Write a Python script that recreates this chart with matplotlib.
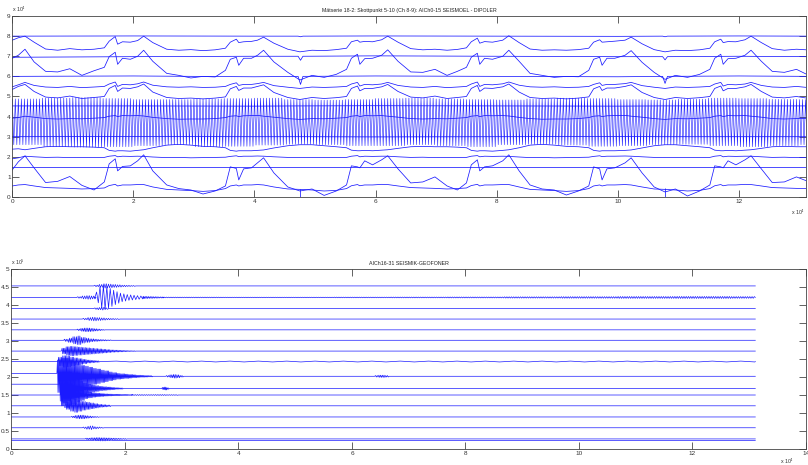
import numpy as np
import matplotlib
matplotlib.use('Agg')
import matplotlib.pyplot as plt

plt.rcParams['font.family'] = ['Liberation Sans', 'DejaVu Sans']

# x i enheter om 1e4 sampel, topp-y i 1e4, botten-y i 1e5
X_END = 13.1072
TITLE_TOP = 'Mätserie 18-2: Skottpunkt 5-10 (Ch 8-9): AICh0-15 SEISMOEL - DIPOLER'
TITLE_BOT = 'AICh16-31 SEISMIK-GEOFONER'

top_xticks = [0, 2, 4, 6, 8, 10, 12]
top_yticks = [0, 1, 2, 3, 4, 5, 6, 7, 8, 9]
bot_xticks = [0, 2, 4, 6, 8, 10, 12, 14]
bot_yticks = [0, 0.5, 1, 1.5, 2, 2.5, 3, 3.5, 4, 4.5, 5]
bot_ylabels = ['0', '0.5', '1', '1.5', '2', '2.5', '3', '3.5', '4', '4.5', '5']

# ---- dipoler: gemensamma brytpunkter (x) ----
KX = [0.0, 0.1,
      0.21, 0.36, 0.55, 0.75, 0.95, 1.15, 1.35, 1.52, 1.6, 1.7, 1.74, 1.82, 1.95, 2.07,
      2.17, 2.32, 2.55, 2.75, 2.95, 3.15, 3.35, 3.52, 3.6, 3.7, 3.74, 3.82, 3.95, 4.05,
      4.15, 4.32, 4.55, 4.75, 4.95, 5.15, 5.35, 5.52, 5.6, 5.7, 5.74, 5.82, 5.95, 6.1,
      6.2, 6.37, 6.58, 6.78, 6.98, 7.18, 7.35, 7.5, 7.58, 7.68, 7.72, 7.8, 7.93, 8.1,
      8.2, 8.37, 8.55, 8.75, 8.95, 9.15, 9.35, 9.52, 9.6, 9.7, 9.74, 9.82, 9.95, 10.12,
      10.22, 10.4, 10.6, 10.78, 10.95, 11.15, 11.35, 11.52, 11.6, 11.7, 11.74, 11.82, 11.95, 12.1,
      12.2, 12.37, 12.55, 12.75, 12.95, 13.12]

trB = [7.8, 7.92,
       8.0, 7.7, 7.36, 7.3, 7.38, 7.32, 7.35, 7.42, 7.75, 7.98, 7.6, 7.72, 7.7, 7.78,
       8.0, 7.68, 7.35, 7.3, 7.33, 7.28, 7.32, 7.4, 7.7, 7.85, 7.68, 7.72, 7.74, 7.8,
       7.95, 7.65, 7.35, 7.22, 7.3, 7.28, 7.33, 7.4, 7.72, 7.8, 7.7, 7.74, 7.72, 7.82,
       8.0, 7.7, 7.38, 7.32, 7.35, 7.3, 7.34, 7.42, 7.72, 7.9, 7.65, 7.73, 7.7, 7.8,
       8.02, 7.68, 7.36, 7.3, 7.32, 7.3, 7.33, 7.4, 7.7, 7.82, 7.7, 7.72, 7.75, 7.8,
       7.95, 7.62, 7.33, 7.22, 7.3, 7.28, 7.32, 7.4, 7.72, 7.85, 7.68, 7.73, 7.72, 7.82,
       8.0, 7.68, 7.38, 7.3, 7.35, 7.32]

trD = [6.9, 7.05,
       7.35, 6.72, 6.25, 6.22, 6.38, 6.05, 6.28, 6.45, 6.98, 7.2, 6.6, 6.9, 6.85, 7.0,
       7.3, 6.75, 6.15, 6.05, 5.92, 6.0, 5.97, 6.3, 6.85, 6.95, 6.55, 6.9, 6.9, 7.05,
       7.3, 6.72, 6.2, 5.82, 6.05, 5.95, 6.1, 6.35, 6.9, 7.1, 6.6, 6.88, 6.9, 7.05,
       7.32, 6.75, 6.22, 6.2, 6.35, 6.05, 6.25, 6.45, 6.95, 7.15, 6.6, 6.9, 6.85, 7.0,
       7.3, 6.75, 6.15, 6.05, 5.95, 6.0, 5.98, 6.3, 6.85, 6.95, 6.55, 6.9, 6.9, 7.05,
       7.28, 6.7, 6.2, 5.85, 6.05, 5.95, 6.1, 6.35, 6.9, 7.1, 6.6, 6.88, 6.9, 7.05,
       7.3, 6.75, 6.25, 6.2, 6.35, 6.1]

trE = [5.48, 5.58,
       5.7, 5.55, 5.47, 5.45, 5.5, 5.44, 5.47, 5.5, 5.62, 5.72, 5.5, 5.6, 5.58, 5.63,
       5.72, 5.56, 5.48, 5.46, 5.48, 5.45, 5.46, 5.5, 5.6, 5.68, 5.55, 5.6, 5.6, 5.64,
       5.7, 5.54, 5.46, 5.4, 5.47, 5.45, 5.47, 5.5, 5.62, 5.7, 5.52, 5.6, 5.58, 5.62,
       5.7, 5.55, 5.47, 5.45, 5.5, 5.44, 5.47, 5.5, 5.62, 5.72, 5.5, 5.6, 5.58, 5.63,
       5.72, 5.56, 5.48, 5.46, 5.48, 5.45, 5.46, 5.5, 5.6, 5.68, 5.55, 5.6, 5.6, 5.64,
       5.7, 5.54, 5.46, 5.4, 5.47, 5.45, 5.47, 5.5, 5.62, 5.7, 5.52, 5.6, 5.58, 5.62,
       5.7, 5.55, 5.47, 5.45, 5.5, 5.45]

trF = [5.35, 5.5,
       5.6, 5.25, 4.97, 4.93, 5.02, 4.9, 4.95, 5.0, 5.4, 5.55, 5.25, 5.42, 5.4, 5.48,
       5.62, 5.22, 4.95, 4.9, 4.92, 4.88, 4.92, 4.98, 5.38, 5.5, 5.3, 5.42, 5.42, 5.5,
       5.58, 5.2, 4.95, 4.85, 4.95, 4.9, 4.94, 5.0, 5.4, 5.52, 5.28, 5.4, 5.4, 5.48,
       5.6, 5.25, 4.97, 4.93, 5.02, 4.9, 4.95, 5.0, 5.4, 5.55, 5.25, 5.42, 5.4, 5.48,
       5.62, 5.22, 4.95, 4.9, 4.92, 4.88, 4.92, 4.98, 5.38, 5.5, 5.3, 5.42, 5.42, 5.5,
       5.58, 5.2, 4.95, 4.85, 4.95, 4.9, 4.94, 5.0, 5.4, 5.52, 5.28, 5.4, 5.4, 5.48,
       5.6, 5.25, 4.97, 4.93, 5.0, 4.92]

trL = [3.92, 3.95,
       4.02, 3.97, 3.9, 3.88, 3.9, 3.89, 3.92, 3.95, 4.02, 4.05, 4.0, 4.05, 4.04, 4.05,
       4.03, 3.96, 3.9, 3.87, 3.88, 3.88, 3.9, 3.95, 4.02, 4.04, 4.0, 4.04, 4.05, 4.06,
       4.02, 3.97, 3.9, 3.86, 3.9, 3.89, 3.92, 3.95, 4.02, 4.05, 4.0, 4.05, 4.04, 4.05,
       4.02, 3.97, 3.9, 3.88, 3.9, 3.89, 3.92, 3.95, 4.02, 4.05, 4.0, 4.05, 4.04, 4.05,
       4.03, 3.96, 3.9, 3.87, 3.88, 3.88, 3.9, 3.95, 4.02, 4.04, 4.0, 4.04, 4.05, 4.06,
       4.02, 3.97, 3.9, 3.86, 3.9, 3.89, 3.92, 3.95, 4.02, 4.05, 4.0, 4.05, 4.04, 4.05,
       4.02, 3.97, 3.9, 3.88, 3.9, 3.9]

trJ = [2.38, 2.4,
       2.35, 2.42, 2.5, 2.52, 2.5, 2.5, 2.48, 2.45, 2.32, 2.28, 2.3, 2.3, 2.28, 2.32,
       2.35, 2.45, 2.58, 2.62, 2.58, 2.52, 2.5, 2.45, 2.32, 2.28, 2.3, 2.3, 2.3, 2.32,
       2.34, 2.44, 2.55, 2.6, 2.6, 2.55, 2.5, 2.45, 2.33, 2.3, 2.3, 2.32, 2.3, 2.33,
       2.35, 2.42, 2.5, 2.52, 2.5, 2.5, 2.48, 2.45, 2.32, 2.28, 2.3, 2.3, 2.28, 2.32,
       2.35, 2.45, 2.58, 2.62, 2.58, 2.52, 2.5, 2.45, 2.32, 2.28, 2.3, 2.3, 2.3, 2.32,
       2.34, 2.44, 2.55, 2.6, 2.6, 2.55, 2.5, 2.45, 2.33, 2.3, 2.3, 2.32, 2.3, 2.33,
       2.35, 2.42, 2.5, 2.52, 2.5, 2.5]

trK = [1.9, 1.95,
       2.03, 2.0, 1.97, 1.98, 1.96, 1.97, 1.96, 1.97, 2.03, 2.06, 2.0, 2.03, 2.02, 2.03,
       2.02, 1.99, 1.96, 1.97, 1.95, 1.96, 1.97, 1.98, 2.02, 2.05, 2.01, 2.03, 2.03, 2.04,
       2.03, 2.0, 1.97, 1.96, 1.96, 1.97, 1.96, 1.97, 2.03, 2.06, 2.0, 2.03, 2.02, 2.03,
       2.03, 2.0, 1.97, 1.98, 1.96, 1.97, 1.96, 1.97, 2.03, 2.06, 2.0, 2.03, 2.02, 2.03,
       2.02, 1.99, 1.96, 1.97, 1.95, 1.96, 1.97, 1.98, 2.02, 2.05, 2.01, 2.03, 2.03, 2.04,
       2.03, 2.0, 1.97, 1.96, 1.96, 1.97, 1.96, 1.97, 2.03, 2.06, 2.0, 2.03, 2.02, 2.03,
       2.03, 2.0, 1.97, 1.98, 1.96, 1.97]

trH = [1.35, 1.75,
       2.05, 1.45, 0.72, 0.78, 1.02, 0.58, 0.35, 0.75, 1.65, 1.9, 1.3, 1.52, 1.55, 1.8,
       2.1, 1.3, 0.6, 0.42, 0.35, 0.15, 0.3, 0.55, 1.5, 1.42, 0.85, 1.4, 1.45, 1.7,
       1.95, 1.2, 0.5, 0.3, 0.4, 0.08, 0.3, 0.6, 1.55, 1.5, 1.45, 1.8, 1.6, 1.85,
       2.05, 1.4, 0.7, 0.75, 1.0, 0.55, 0.35, 0.7, 1.6, 1.85, 1.3, 1.5, 1.55, 1.8,
       2.1, 1.3, 0.6, 0.4, 0.35, 0.1, 0.3, 0.55, 1.5, 1.4, 0.85, 1.4, 1.45, 1.7,
       1.95, 1.2, 0.5, 0.25, 0.4, 0.05, 0.3, 0.6, 1.55, 1.5, 1.45, 1.8, 1.6, 1.85,
       2.05, 1.4, 0.72, 0.75, 1.0, 0.8]

trI = [0.55, 0.6,
       0.62, 0.55, 0.47, 0.45, 0.43, 0.4, 0.42, 0.45, 0.57, 0.63, 0.55, 0.6, 0.6, 0.62,
       0.62, 0.5, 0.38, 0.35, 0.32, 0.28, 0.32, 0.42, 0.55, 0.6, 0.55, 0.6, 0.6, 0.62,
       0.6, 0.5, 0.4, 0.38, 0.35, 0.3, 0.33, 0.42, 0.56, 0.62, 0.56, 0.6, 0.6, 0.63,
       0.62, 0.55, 0.47, 0.45, 0.43, 0.4, 0.42, 0.45, 0.57, 0.63, 0.55, 0.6, 0.6, 0.62,
       0.62, 0.5, 0.38, 0.35, 0.32, 0.28, 0.32, 0.42, 0.55, 0.6, 0.55, 0.6, 0.6, 0.62,
       0.6, 0.5, 0.4, 0.38, 0.35, 0.3, 0.33, 0.42, 0.56, 0.62, 0.56, 0.6, 0.6, 0.63,
       0.62, 0.55, 0.47, 0.45, 0.43, 0.42]

# nästan raka dipolkanaler (egna brytpunkter)
flatX = [0.0, 2.0, 4.0, 4.72, 4.76, 4.8, 6.0, 8.0, 10.0, 10.74, 10.78, 10.82, 12.0, 13.12]
trA = [8.0, 8.01, 8.0, 8.0, 7.97, 8.0, 8.01, 8.0, 7.99, 8.0, 7.97, 8.0, 8.01, 8.0]
trC = [6.95, 6.98, 7.0, 7.0, 6.8, 7.0, 7.02, 7.0, 6.98, 6.98, 6.82, 6.98, 7.0, 6.98]
trG = [6.0, 6.02, 5.98, 6.0, 5.6, 6.0, 6.02, 6.0, 5.98, 6.0, 5.65, 6.0, 6.02, 6.0]
trM = [1.5, 1.5, 1.5, 1.5, 1.5, 1.5, 1.5, 1.5, 1.5, 1.5, 1.5, 1.5, 1.5, 1.5]
trN = [3.0, 3.01, 3.0, 3.0, 3.0, 3.0, 2.99, 3.0, 3.01, 3.0, 3.0, 3.0, 3.0, 3.0]
trO = [4.53, 4.53, 4.52, 4.53, 4.53, 4.53, 4.54, 4.53, 4.52, 4.53, 4.53, 4.53, 4.53, 4.53]
notchX = [4.75, 10.78]
notchLo = [0.0, 0.0]
notchHi = [0.4, 0.45]

# pulståg 2.5-4.9: topp/botten per 0.5e4-segment, 10 pulser per segment
PULSE_SEG = 0.5
PULSE_N = 10
pulse_top = [4.88, 4.92, 4.95, 4.9, 4.85, 4.85, 4.88, 4.9, 4.92, 4.85, 4.82, 4.85, 4.9, 4.92,
             4.88, 4.85, 4.83, 4.88, 4.92, 4.9, 4.85, 4.83, 4.87, 4.92, 4.9, 4.86, 4.85]
pulse_bot = [2.6, 2.5, 2.48, 2.5, 2.55, 2.6, 2.5, 2.52, 2.58, 2.62, 2.6, 2.55, 2.55, 2.6,
             2.55, 2.5, 2.6, 2.62, 2.58, 2.52, 2.55, 2.6, 2.62, 2.55, 2.5, 2.55, 2.6]

# ---- geofoner ----
geo_base = [4.53, 4.21, 3.90, 3.61, 3.31, 3.02, 2.72, 2.43, 2.02, 1.68, 1.50, 1.20, 0.89, 0.59, 0.28, 0.24]
geo_pre = [0, 0, 0, 0, 0, 0, 0, 0, 0.08, 0.12, 0, 0, 0, 0, 0, 0]
# (kanal, start, halvperiod, extremvärden per steg, amplitudsteg)
geo_bursts = [
    (0, 1.45, 0.02, 4, [0.02, 0.04, 0.06, 0.05, 0.04, 0.03, 0.02, 0.015, 0.01]),
    (1, 1.15, 0.02, 4, [0.02, 0.04, 0.05, 0.04]),
    (1, 1.47, 0.03, 2, [0.15, 0.3, 0.33, 0.3, 0.25, 0.2, 0.16, 0.12, 0.1, 0.08, 0.07, 0.06, 0.05, 0.04]),
    (1, 2.31, 0.015, 6, [0.03, 0.025, 0.02, 0.015]),
    (1, 2.67, 0.02, 50, [0.01, 0.008, 0.008, 0.01, 0.012, 0.014, 0.018, 0.022, 0.026, 0.028, 0.024]),
    (2, 1.45, 0.02, 3, [0.02, 0.03, 0.04, 0.02]),
    (3, 1.25, 0.02, 4, [0.02, 0.04, 0.05, 0.04, 0.03, 0.02, 0.015, 0.01]),
    (4, 1.15, 0.015, 4, [0.02, 0.04, 0.05, 0.05, 0.04, 0.03, 0.02, 0.01]),
    (5, 0.92, 0.015, 5, [0.03, 0.06, 0.1, 0.12, 0.08, 0.06, 0.04, 0.03, 0.02, 0.015, 0.01]),
    (6, 0.88, 0.012, 6, [0.08, 0.12, 0.13, 0.12, 0.11, 0.1, 0.09, 0.08, 0.07, 0.06, 0.05, 0.04,
                         0.03, 0.025, 0.02, 0.015, 0.01, 0.008]),
    (7, 0.82, 0.012, 6, [0.12, 0.16, 0.15, 0.12, 0.1, 0.08, 0.06, 0.04, 0.03, 0.02]),
    (7, 1.6, 0.25, 46, [0.012]),
    (8, 0.80, 0.01, 7, [0.45, 0.5, 0.5, 0.45, 0.4, 0.35, 0.3, 0.28, 0.25, 0.22, 0.2, 0.17,
                        0.15, 0.12, 0.1, 0.08, 0.07, 0.06, 0.05, 0.04, 0.03, 0.025, 0.02, 0.015]),
    (8, 2.72, 0.015, 4, [0.02, 0.04, 0.05, 0.04, 0.02]),
    (8, 6.4, 0.015, 4, [0.02, 0.03, 0.03, 0.02]),
    (9, 0.84, 0.01, 7, [0.35, 0.4, 0.35, 0.3, 0.25, 0.2, 0.15, 0.12, 0.1, 0.08, 0.06, 0.05,
                        0.04, 0.03, 0.02, 0.015]),
    (9, 2.65, 0.01, 4, [0.03, 0.04, 0.02]),
    (10, 0.86, 0.01, 7, [0.3, 0.35, 0.3, 0.25, 0.2, 0.15, 0.1, 0.08, 0.06, 0.05, 0.04, 0.03,
                         0.025, 0.02, 0.02, 0.015, 0.015, 0.01]),
    (10, 2.12, 0.02, 10, [0.012, 0.01, 0.012, 0.008]),
    (11, 0.95, 0.012, 6, [0.1, 0.15, 0.18, 0.15, 0.12, 0.1, 0.08, 0.06, 0.04, 0.03, 0.02]),
    (12, 1.05, 0.015, 4, [0.02, 0.04, 0.05, 0.05, 0.035, 0.025, 0.015, 0.01]),
    (13, 1.25, 0.02, 3, [0.02, 0.04, 0.05, 0.03, 0.02, 0.01]),
    (14, 1.3, 0.015, 6, [0.02, 0.03, 0.035, 0.03, 0.025, 0.02, 0.015, 0.01]),
    (15, 1.45, 0.02, 5, [0.01, 0.015, 0.01]),
]

BLUE = '#1a1aff'
FS_TICK = 4.6
FS_TXT = 3.8


def geo_trace(ch):
    base = geo_base[ch]
    xs = [0.0]
    ys = [base + geo_pre[ch]]
    first = True
    for c, x0, half, step, env in geo_bursts:
        if c != ch:
            continue
        xs.append(x0)
        ys.append(ys[-1] if first else base)
        first = False
        amp = np.repeat(env, step)
        sgn = np.where(np.arange(len(amp)) % 2 == 0, 1.0, -1.0)
        xs += list(x0 + half * np.arange(1, len(amp) + 1))
        ys += list(base + sgn * amp)
        xs.append(xs[-1] + half)
        ys.append(base)
    xs.append(X_END)
    ys.append(base)
    xs = np.array(xs)
    ys = np.array(ys)
    keep = xs <= X_END
    return xs[keep], ys[keep]


def style(ax, xt, yt, ylab, xlim, ylim):
    ax.set_xlim(xlim)
    ax.set_ylim(ylim)
    ax.set_xticks(xt)
    ax.set_xticklabels([str(v) for v in xt])
    ax.set_yticks(yt)
    ax.set_yticklabels(ylab)
    ax.tick_params(direction='in', length=5, width=0.5, labelsize=FS_TICK, top=True, right=True,
                   pad=1.2, color='#222222', labelcolor='#333333')
    for s in ax.spines.values():
        s.set_linewidth(0.6)
        s.set_color('#444444')


fig = plt.figure(figsize=(8.08, 4.65), dpi=100)
ax1 = fig.add_axes([0.0152, 0.5763, 0.9823, 0.3892])
ax2 = fig.add_axes([0.0142, 0.0344, 0.9833, 0.3871])

# pulståget
px = []
py = []
for i in range(len(pulse_top)):
    for k in range(2 * PULSE_N):
        px.append(i * PULSE_SEG + k * PULSE_SEG / (2 * PULSE_N))
        py.append(pulse_top[i] if k % 2 == 0 else pulse_bot[i])
ax1.plot(px, py, color=BLUE, lw=0.4)

for tr in [trB, trD, trE, trF, trL, trJ, trK, trH, trI]:
    ax1.plot(KX, tr, color=BLUE, lw=0.55)
for tr in [trA, trC, trG, trM, trN, trO]:
    ax1.plot(flatX, tr, color=BLUE, lw=0.55)
ax1.vlines(notchX, notchLo, notchHi, color=BLUE, lw=0.55)

style(ax1, top_xticks, top_yticks, [str(v) for v in top_yticks], (0, X_END), (0, 9))
ax1.set_title(TITLE_TOP, fontsize=FS_TXT, pad=3, color='#222222')
ax1.text(0.0, 1.01, r'x 10$^4$', transform=ax1.transAxes, fontsize=FS_TXT, ha='left', va='bottom', color='#333333')
ax1.text(0.999, -0.06, r'x 10$^4$', transform=ax1.transAxes, fontsize=FS_TXT, ha='right', va='top', color='#333333')

for ch in range(len(geo_base)):
    gx, gy = geo_trace(ch)
    ax2.plot(gx, gy, color=BLUE, lw=0.5)

style(ax2, bot_xticks, bot_yticks, bot_ylabels, (0, 14), (0, 5))
ax2.set_title(TITLE_BOT, fontsize=FS_TXT, pad=3, color='#222222')
ax2.text(0.0, 1.01, r'x 10$^5$', transform=ax2.transAxes, fontsize=FS_TXT, ha='left', va='bottom', color='#333333')
ax2.text(0.985, -0.045, r'x 10$^4$', transform=ax2.transAxes, fontsize=FS_TXT, ha='right', va='top', color='#333333')

fig.savefig('out.png', dpi=100)
